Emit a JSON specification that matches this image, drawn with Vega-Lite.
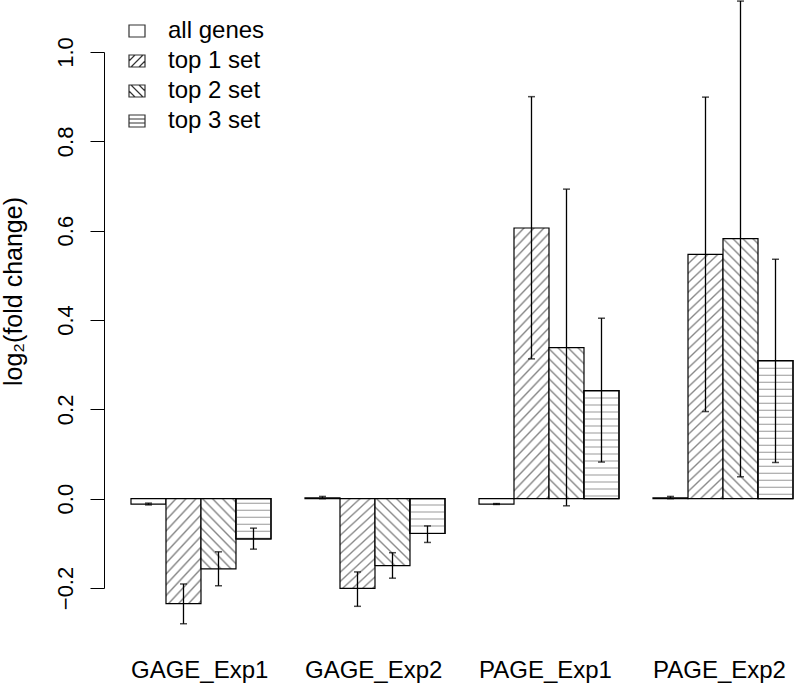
{
  "$schema": "https://vega.github.io/schema/vega-lite/v6.json",
  "width": 691,
  "height": 536,
  "autosize": {"type": "none"},
  "padding": {"left": 104, "top": 52, "right": 0, "bottom": 102},
  "config": {
    "font": "Liberation Sans",
    "view": {"stroke": null},
    "axisY": {
      "grid": false, "domainColor": "black", "domainWidth": 1, "tickColor": "black", "tickWidth": 1, "tickSize": 14,
      "labelAngle": 270, "labelAlign": "center", "labelBaseline": "alphabetic", "labelPadding": 18,
      "labelFontSize": 22, "labelColor": "black",
      "titleFontSize": 25, "titleFontWeight": "normal", "titleColor": "black", "titleAngle": 270,
      "titleX": -83, "titleY": 239, "titleAlign": "center", "titleBaseline": "alphabetic"
    }
  },
  "data": {
    "values": [
      {"grp": "GAGE_Exp1", "set": "all genes", "v": -0.012, "lo": -0.014, "hi": -0.010},
      {"grp": "GAGE_Exp1", "set": "top 1 set", "v": -0.235, "lo": -0.280, "hi": -0.191},
      {"grp": "GAGE_Exp1", "set": "top 2 set", "v": -0.157, "lo": -0.195, "hi": -0.119},
      {"grp": "GAGE_Exp1", "set": "top 3 set", "v": -0.090, "lo": -0.113, "hi": -0.066},
      {"grp": "GAGE_Exp2", "set": "all genes", "v": 0.002, "lo": 0.000, "hi": 0.005},
      {"grp": "GAGE_Exp2", "set": "top 1 set", "v": -0.201, "lo": -0.241, "hi": -0.164},
      {"grp": "GAGE_Exp2", "set": "top 2 set", "v": -0.150, "lo": -0.178, "hi": -0.121},
      {"grp": "GAGE_Exp2", "set": "top 3 set", "v": -0.078, "lo": -0.098, "hi": -0.061},
      {"grp": "PAGE_Exp1", "set": "all genes", "v": -0.012, "lo": -0.013, "hi": -0.011},
      {"grp": "PAGE_Exp1", "set": "top 1 set", "v": 0.606, "lo": 0.313, "hi": 0.900},
      {"grp": "PAGE_Exp1", "set": "top 2 set", "v": 0.338, "lo": -0.016, "hi": 0.693},
      {"grp": "PAGE_Exp1", "set": "top 3 set", "v": 0.242, "lo": 0.082, "hi": 0.404},
      {"grp": "PAGE_Exp2", "set": "all genes", "v": 0.002, "lo": 0.000, "hi": 0.005},
      {"grp": "PAGE_Exp2", "set": "top 1 set", "v": 0.547, "lo": 0.195, "hi": 0.899},
      {"grp": "PAGE_Exp2", "set": "top 2 set", "v": 0.582, "lo": 0.049, "hi": 1.114},
      {"grp": "PAGE_Exp2", "set": "top 3 set", "v": 0.309, "lo": 0.081, "hi": 0.536}
    ]
  },
  "encoding": {
    "x": {
      "field": "grp", "type": "nominal", "sort": null,
      "scale": {"paddingInner": 0.1954, "paddingOuter": 0.0833, "align": 0.931, "round": false},
      "axis": {"title": null, "domain": false, "ticks": false, "tickSize": 0, "labelOffset": -70,
               "labelAlign": "left", "labelBaseline": "alphabetic", "labelPadding": 89,
               "labelFontSize": 24, "labelColor": "black", "labelAngle": 0}
    },
    "xOffset": {
      "field": "set", "type": "nominal",
      "scale": {"domain": ["all genes", "top 1 set", "top 2 set", "top 3 set"], "paddingInner": 0, "paddingOuter": 0}
    }
  },
  "layer": [
    {
      "mark": {"type": "bar", "stroke": "black", "strokeWidth": 1.2},
      "encoding": {
        "y": {"field": "v", "type": "quantitative", "title": "log₂(fold change)",
              "scale": {"domain": [-0.2, 1.0], "nice": false, "zero": false},
              "axis": {"values": [-0.2, 0, 0.2, 0.4, 0.6, 0.8, 1.0], "format": ".1f"}},
        "y2": {"datum": 0},
        "fill": {
          "condition": [
            {"test": "datum.set === 'top 1 set' && indexof(datum.grp, 'GAGE') >= 0",
             "value": {"gradient": "linear", "x1": 0, "y1": 0, "x2": 1.0437, "y2": 2.9075, "stops": [
              {"offset":0,"color":"#888"},{"offset":0.00625,"color":"#fff"},{"offset":0.025,"color":"#fff"},
              {"offset":0.03125,"color":"#888"},{"offset":0.0375,"color":"#fff"},{"offset":0.05625,"color":"#fff"},
              {"offset":0.0625,"color":"#888"},{"offset":0.06875,"color":"#fff"},{"offset":0.0875,"color":"#fff"},
              {"offset":0.09375,"color":"#888"},{"offset":0.1,"color":"#fff"},{"offset":0.11875,"color":"#fff"},
              {"offset":0.125,"color":"#888"},{"offset":0.13125,"color":"#fff"},{"offset":0.15,"color":"#fff"},
              {"offset":0.15625,"color":"#888"},{"offset":0.1625,"color":"#fff"},{"offset":0.18125,"color":"#fff"},
              {"offset":0.1875,"color":"#888"},{"offset":0.19375,"color":"#fff"},{"offset":0.2125,"color":"#fff"},
              {"offset":0.21875,"color":"#888"},{"offset":0.225,"color":"#fff"},{"offset":0.24375,"color":"#fff"},
              {"offset":0.25,"color":"#888"},{"offset":0.25625,"color":"#fff"},{"offset":0.275,"color":"#fff"},
              {"offset":0.28125,"color":"#888"},{"offset":0.2875,"color":"#fff"},{"offset":0.30625,"color":"#fff"},
              {"offset":0.3125,"color":"#888"},{"offset":0.31875,"color":"#fff"},{"offset":0.3375,"color":"#fff"},
              {"offset":0.34375,"color":"#888"},{"offset":0.35,"color":"#fff"},{"offset":0.36875,"color":"#fff"},
              {"offset":0.375,"color":"#888"},{"offset":0.38125,"color":"#fff"},{"offset":0.4,"color":"#fff"},
              {"offset":0.40625,"color":"#888"},{"offset":0.4125,"color":"#fff"},{"offset":0.43125,"color":"#fff"}
             ]}},
            {"test": "datum.set === 'top 1 set'",
             "value": {"gradient": "linear", "x1": 0, "y1": 0, "x2": 0.16585, "y2": 1.22018, "stops": [
              {"offset":0,"color":"#888"},{"offset":0.00625,"color":"#fff"},{"offset":0.025,"color":"#fff"},
              {"offset":0.03125,"color":"#888"},{"offset":0.0375,"color":"#fff"},{"offset":0.05625,"color":"#fff"},
              {"offset":0.0625,"color":"#888"},{"offset":0.06875,"color":"#fff"},{"offset":0.0875,"color":"#fff"},
              {"offset":0.09375,"color":"#888"},{"offset":0.1,"color":"#fff"},{"offset":0.11875,"color":"#fff"},
              {"offset":0.125,"color":"#888"},{"offset":0.13125,"color":"#fff"},{"offset":0.15,"color":"#fff"},
              {"offset":0.15625,"color":"#888"},{"offset":0.1625,"color":"#fff"},{"offset":0.18125,"color":"#fff"},
              {"offset":0.1875,"color":"#888"},{"offset":0.19375,"color":"#fff"},{"offset":0.2125,"color":"#fff"},
              {"offset":0.21875,"color":"#888"},{"offset":0.225,"color":"#fff"},{"offset":0.24375,"color":"#fff"},
              {"offset":0.25,"color":"#888"},{"offset":0.25625,"color":"#fff"},{"offset":0.275,"color":"#fff"},
              {"offset":0.28125,"color":"#888"},{"offset":0.2875,"color":"#fff"},{"offset":0.30625,"color":"#fff"},
              {"offset":0.3125,"color":"#888"},{"offset":0.31875,"color":"#fff"},{"offset":0.3375,"color":"#fff"},
              {"offset":0.34375,"color":"#888"},{"offset":0.35,"color":"#fff"},{"offset":0.36875,"color":"#fff"},
              {"offset":0.375,"color":"#888"},{"offset":0.38125,"color":"#fff"},{"offset":0.4,"color":"#fff"},
              {"offset":0.40625,"color":"#888"},{"offset":0.4125,"color":"#fff"},{"offset":0.43125,"color":"#fff"},
              {"offset":0.4375,"color":"#888"},{"offset":0.44375,"color":"#fff"},{"offset":0.4625,"color":"#fff"},
              {"offset":0.46875,"color":"#888"},{"offset":0.475,"color":"#fff"},{"offset":0.49375,"color":"#fff"},
              {"offset":0.5,"color":"#888"},{"offset":0.50625,"color":"#fff"},{"offset":0.525,"color":"#fff"},
              {"offset":0.53125,"color":"#888"},{"offset":0.5375,"color":"#fff"},{"offset":0.55625,"color":"#fff"},
              {"offset":0.5625,"color":"#888"},{"offset":0.56875,"color":"#fff"},{"offset":0.5875,"color":"#fff"},
              {"offset":0.59375,"color":"#888"},{"offset":0.6,"color":"#fff"},{"offset":0.61875,"color":"#fff"},
              {"offset":0.625,"color":"#888"},{"offset":0.63125,"color":"#fff"},{"offset":0.65,"color":"#fff"},
              {"offset":0.65625,"color":"#888"},{"offset":0.6625,"color":"#fff"},{"offset":0.68125,"color":"#fff"},
              {"offset":0.6875,"color":"#888"},{"offset":0.69375,"color":"#fff"},{"offset":0.7125,"color":"#fff"},
              {"offset":0.71875,"color":"#888"},{"offset":0.725,"color":"#fff"},{"offset":0.74375,"color":"#fff"},
              {"offset":0.75,"color":"#888"},{"offset":0.75625,"color":"#fff"},{"offset":0.775,"color":"#fff"},
              {"offset":0.78125,"color":"#888"},{"offset":0.7875,"color":"#fff"},{"offset":0.80625,"color":"#fff"},
              {"offset":0.8125,"color":"#888"},{"offset":0.81875,"color":"#fff"},{"offset":0.8375,"color":"#fff"},
              {"offset":0.84375,"color":"#888"},{"offset":0.85,"color":"#fff"},{"offset":0.86875,"color":"#fff"},
              {"offset":0.875,"color":"#888"},{"offset":0.88125,"color":"#fff"},{"offset":0.9,"color":"#fff"},
              {"offset":0.90625,"color":"#888"},{"offset":0.9125,"color":"#fff"},{"offset":0.93125,"color":"#fff"}
             ]}},
            {"test": "datum.set === 'top 2 set' && indexof(datum.grp, 'GAGE') >= 0",
             "value": {"gradient": "linear", "x1": 0, "y1": 1, "x2": 1.8929, "y2": -2.7046, "stops": [
              {"offset":0,"color":"#888"},{"offset":0.00625,"color":"#fff"},{"offset":0.025,"color":"#fff"},
              {"offset":0.03125,"color":"#888"},{"offset":0.0375,"color":"#fff"},{"offset":0.05625,"color":"#fff"},
              {"offset":0.0625,"color":"#888"},{"offset":0.06875,"color":"#fff"},{"offset":0.0875,"color":"#fff"},
              {"offset":0.09375,"color":"#888"},{"offset":0.1,"color":"#fff"},{"offset":0.11875,"color":"#fff"},
              {"offset":0.125,"color":"#888"},{"offset":0.13125,"color":"#fff"},{"offset":0.15,"color":"#fff"},
              {"offset":0.15625,"color":"#888"},{"offset":0.1625,"color":"#fff"},{"offset":0.18125,"color":"#fff"},
              {"offset":0.1875,"color":"#888"},{"offset":0.19375,"color":"#fff"},{"offset":0.2125,"color":"#fff"},
              {"offset":0.21875,"color":"#888"},{"offset":0.225,"color":"#fff"},{"offset":0.24375,"color":"#fff"},
              {"offset":0.25,"color":"#888"},{"offset":0.25625,"color":"#fff"},{"offset":0.275,"color":"#fff"},
              {"offset":0.28125,"color":"#888"},{"offset":0.2875,"color":"#fff"},{"offset":0.30625,"color":"#fff"},
              {"offset":0.3125,"color":"#888"},{"offset":0.31875,"color":"#fff"},{"offset":0.3375,"color":"#fff"}
             ]}},
            {"test": "datum.set === 'top 2 set' && datum.grp === 'PAGE_Exp1'",
             "value": {"gradient": "linear", "x1": 0, "y1": 1, "x2": 0.46616, "y2": -1.01115, "stops": [
              {"offset":0,"color":"#888"},{"offset":0.00625,"color":"#fff"},{"offset":0.025,"color":"#fff"},
              {"offset":0.03125,"color":"#888"},{"offset":0.0375,"color":"#fff"},{"offset":0.05625,"color":"#fff"},
              {"offset":0.0625,"color":"#888"},{"offset":0.06875,"color":"#fff"},{"offset":0.0875,"color":"#fff"},
              {"offset":0.09375,"color":"#888"},{"offset":0.1,"color":"#fff"},{"offset":0.11875,"color":"#fff"},
              {"offset":0.125,"color":"#888"},{"offset":0.13125,"color":"#fff"},{"offset":0.15,"color":"#fff"},
              {"offset":0.15625,"color":"#888"},{"offset":0.1625,"color":"#fff"},{"offset":0.18125,"color":"#fff"},
              {"offset":0.1875,"color":"#888"},{"offset":0.19375,"color":"#fff"},{"offset":0.2125,"color":"#fff"},
              {"offset":0.21875,"color":"#888"},{"offset":0.225,"color":"#fff"},{"offset":0.24375,"color":"#fff"},
              {"offset":0.25,"color":"#888"},{"offset":0.25625,"color":"#fff"},{"offset":0.275,"color":"#fff"},
              {"offset":0.28125,"color":"#888"},{"offset":0.2875,"color":"#fff"},{"offset":0.30625,"color":"#fff"},
              {"offset":0.3125,"color":"#888"},{"offset":0.31875,"color":"#fff"},{"offset":0.3375,"color":"#fff"},
              {"offset":0.34375,"color":"#888"},{"offset":0.35,"color":"#fff"},{"offset":0.36875,"color":"#fff"},
              {"offset":0.375,"color":"#888"},{"offset":0.38125,"color":"#fff"},{"offset":0.4,"color":"#fff"},
              {"offset":0.40625,"color":"#888"},{"offset":0.4125,"color":"#fff"},{"offset":0.43125,"color":"#fff"},
              {"offset":0.4375,"color":"#888"},{"offset":0.44375,"color":"#fff"},{"offset":0.4625,"color":"#fff"},
              {"offset":0.46875,"color":"#888"},{"offset":0.475,"color":"#fff"},{"offset":0.49375,"color":"#fff"},
              {"offset":0.5,"color":"#888"},{"offset":0.50625,"color":"#fff"},{"offset":0.525,"color":"#fff"},
              {"offset":0.53125,"color":"#888"},{"offset":0.5375,"color":"#fff"},{"offset":0.55625,"color":"#fff"},
              {"offset":0.5625,"color":"#888"},{"offset":0.56875,"color":"#fff"},{"offset":0.5875,"color":"#fff"}
             ]}},
            {"test": "datum.set === 'top 2 set'",
             "value": {"gradient": "linear", "x1": 0, "y1": 1, "x2": 0.16273, "y2": -0.20886, "stops": [
              {"offset":0,"color":"#888"},{"offset":0.00625,"color":"#fff"},{"offset":0.025,"color":"#fff"},
              {"offset":0.03125,"color":"#888"},{"offset":0.0375,"color":"#fff"},{"offset":0.05625,"color":"#fff"},
              {"offset":0.0625,"color":"#888"},{"offset":0.06875,"color":"#fff"},{"offset":0.0875,"color":"#fff"},
              {"offset":0.09375,"color":"#888"},{"offset":0.1,"color":"#fff"},{"offset":0.11875,"color":"#fff"},
              {"offset":0.125,"color":"#888"},{"offset":0.13125,"color":"#fff"},{"offset":0.15,"color":"#fff"},
              {"offset":0.15625,"color":"#888"},{"offset":0.1625,"color":"#fff"},{"offset":0.18125,"color":"#fff"},
              {"offset":0.1875,"color":"#888"},{"offset":0.19375,"color":"#fff"},{"offset":0.2125,"color":"#fff"},
              {"offset":0.21875,"color":"#888"},{"offset":0.225,"color":"#fff"},{"offset":0.24375,"color":"#fff"},
              {"offset":0.25,"color":"#888"},{"offset":0.25625,"color":"#fff"},{"offset":0.275,"color":"#fff"},
              {"offset":0.28125,"color":"#888"},{"offset":0.2875,"color":"#fff"},{"offset":0.30625,"color":"#fff"},
              {"offset":0.3125,"color":"#888"},{"offset":0.31875,"color":"#fff"},{"offset":0.3375,"color":"#fff"},
              {"offset":0.34375,"color":"#888"},{"offset":0.35,"color":"#fff"},{"offset":0.36875,"color":"#fff"},
              {"offset":0.375,"color":"#888"},{"offset":0.38125,"color":"#fff"},{"offset":0.4,"color":"#fff"},
              {"offset":0.40625,"color":"#888"},{"offset":0.4125,"color":"#fff"},{"offset":0.43125,"color":"#fff"},
              {"offset":0.4375,"color":"#888"},{"offset":0.44375,"color":"#fff"},{"offset":0.4625,"color":"#fff"},
              {"offset":0.46875,"color":"#888"},{"offset":0.475,"color":"#fff"},{"offset":0.49375,"color":"#fff"},
              {"offset":0.5,"color":"#888"},{"offset":0.50625,"color":"#fff"},{"offset":0.525,"color":"#fff"},
              {"offset":0.53125,"color":"#888"},{"offset":0.5375,"color":"#fff"},{"offset":0.55625,"color":"#fff"},
              {"offset":0.5625,"color":"#888"},{"offset":0.56875,"color":"#fff"},{"offset":0.5875,"color":"#fff"},
              {"offset":0.59375,"color":"#888"},{"offset":0.6,"color":"#fff"},{"offset":0.61875,"color":"#fff"},
              {"offset":0.625,"color":"#888"},{"offset":0.63125,"color":"#fff"},{"offset":0.65,"color":"#fff"},
              {"offset":0.65625,"color":"#888"},{"offset":0.6625,"color":"#fff"},{"offset":0.68125,"color":"#fff"},
              {"offset":0.6875,"color":"#888"},{"offset":0.69375,"color":"#fff"},{"offset":0.7125,"color":"#fff"},
              {"offset":0.71875,"color":"#888"},{"offset":0.725,"color":"#fff"},{"offset":0.74375,"color":"#fff"},
              {"offset":0.75,"color":"#888"},{"offset":0.75625,"color":"#fff"},{"offset":0.775,"color":"#fff"},
              {"offset":0.78125,"color":"#888"},{"offset":0.7875,"color":"#fff"},{"offset":0.80625,"color":"#fff"},
              {"offset":0.8125,"color":"#888"},{"offset":0.81875,"color":"#fff"},{"offset":0.8375,"color":"#fff"},
              {"offset":0.84375,"color":"#888"},{"offset":0.85,"color":"#fff"},{"offset":0.86875,"color":"#fff"},
              {"offset":0.875,"color":"#888"},{"offset":0.88125,"color":"#fff"},{"offset":0.9,"color":"#fff"},
              {"offset":0.90625,"color":"#888"},{"offset":0.9125,"color":"#fff"},{"offset":0.93125,"color":"#fff"}
             ]}}
          ],
          "value": "white"
        }
      }
    },
    {
      "transform": [{"filter": "datum.set === 'top 3 set'"}],
      "mark": {"type": "rule", "strokeWidth": 33, "color": "#999", "strokeDash": [1, 6], "strokeCap": "butt"},
      "encoding": {
        "y": {"field": "v", "type": "quantitative", "title": "log₂(fold change)"},
        "y2": {"datum": 0}
      }
    },
    {
      "transform": [{"filter": "datum.set === 'top 3 set'"}],
      "mark": {"type": "bar", "fillOpacity": 0, "stroke": "black", "strokeWidth": 1.2},
      "encoding": {
        "y": {"field": "v", "type": "quantitative", "title": "log₂(fold change)"},
        "y2": {"datum": 0}
      }
    },
    {
      "mark": {"type": "rule", "color": "black", "strokeWidth": 1.3},
      "encoding": {
        "y": {"field": "lo", "type": "quantitative", "title": "log₂(fold change)"},
        "y2": {"field": "hi"}
      }
    },
    {
      "mark": {"type": "tick", "color": "black", "size": 7, "thickness": 1.5},
      "encoding": {
        "y": {"field": "lo", "type": "quantitative", "title": "log₂(fold change)"}
      }
    },
    {
      "mark": {"type": "tick", "color": "black", "size": 7, "thickness": 1.5},
      "encoding": {
        "y": {"field": "hi", "type": "quantitative", "title": "log₂(fold change)"}
      }
    },
    {
      "mark": {"type": "point", "opacity": 0},
      "encoding": {
        "shape": {
          "field": "set", "type": "nominal",
          "scale": {
            "domain": ["all genes", "top 1 set", "top 2 set", "top 3 set"],
            "range": [
              "M-1,-0.75H1V0.75H-1Z",
              "M-1,-0.75H1V0.75H-1Z M-1,0L-0.25,-0.75 M-0.75,0.75L0.75,-0.75 M0.25,0.75L1,0",
              "M-1,-0.75H1V0.75H-1Z M-1,0L-0.25,0.75 M-0.75,-0.75L0.75,0.75 M0.25,-0.75L1,0",
              "M-1,-0.75H1V0.75H-1Z M-1,-0.25H1 M-1,0.25H1"
            ]
          },
          "legend": {
            "title": null, "orient": "none", "legendX": 21, "legendY": -33, "padding": 0,
            "labelFontSize": 24, "labelColor": "black", "labelOffset": 19, "rowPadding": 6,
            "symbolSize": 256, "symbolStrokeWidth": 1.2, "symbolStrokeColor": "#333",
            "symbolFillColor": "transparent", "symbolOpacity": 1
          }
        }
      }
    }
  ]
}
